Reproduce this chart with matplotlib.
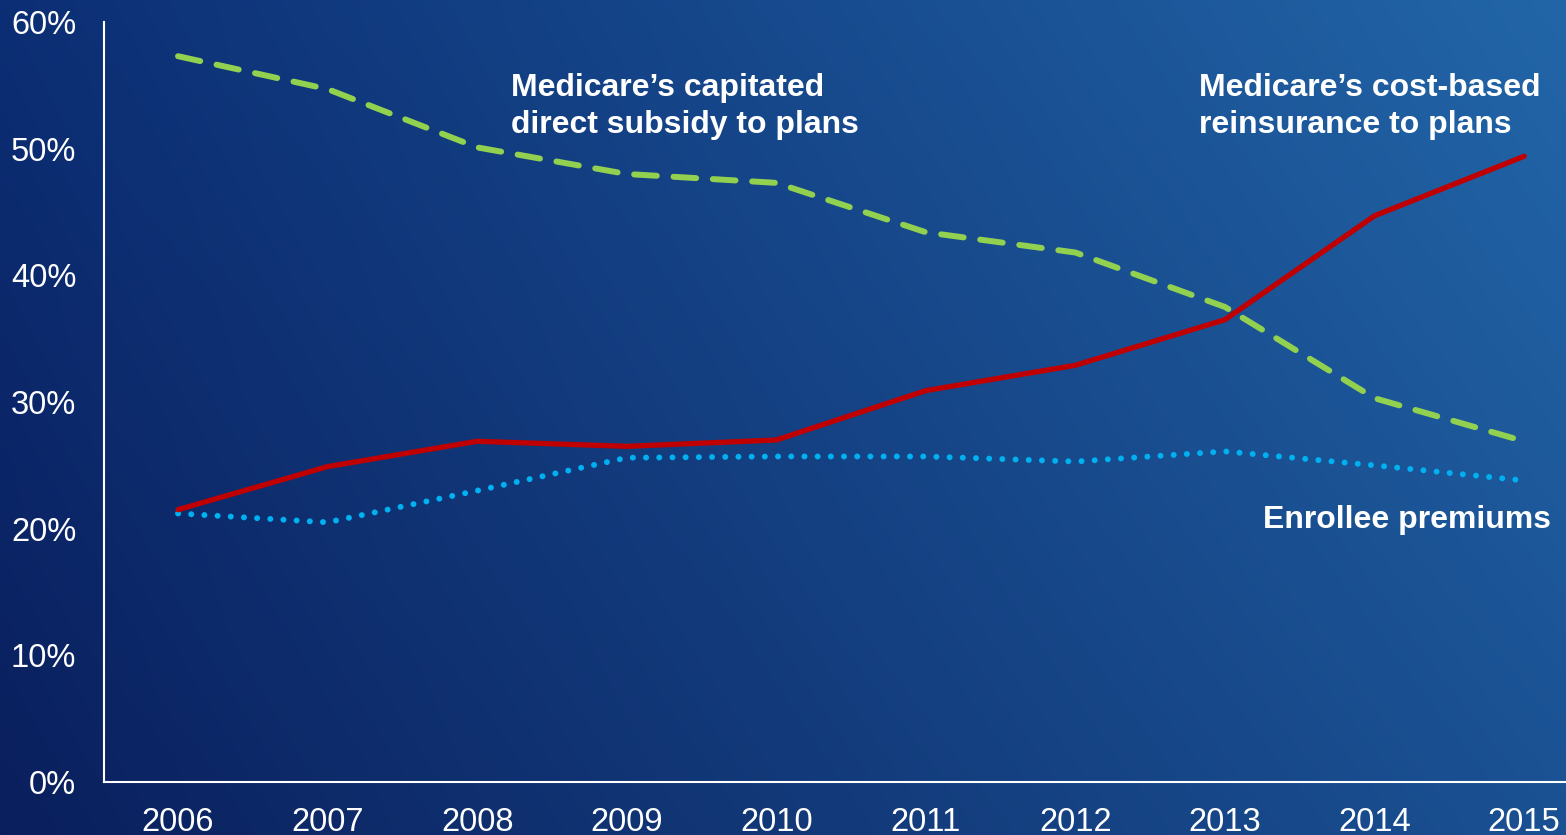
import numpy as np
import matplotlib
matplotlib.use("Agg")
import matplotlib.pyplot as plt
from matplotlib.colors import to_rgb

years = [2006, 2007, 2008, 2009, 2010, 2011, 2012, 2013, 2014, 2015]
reinsurance = [21.5, 24.9, 26.9, 26.5, 27.0, 30.9, 32.9, 36.5, 44.7, 49.4]
direct_subsidy = [57.3, 54.7, 50.1, 48.0, 47.3, 43.4, 41.8, 37.5, 30.3, 26.9]
premiums = [21.2, 20.5, 23.0, 25.6, 25.7, 25.7, 25.3, 26.1, 25.0, 23.8]
yticks = [0, 10, 20, 30, 40, 50, 60]

plt.rcParams['font.family'] = ['Liberation Sans', 'DejaVu Sans']

W, H = 1566, 835
fig = plt.figure(figsize=(W / 100, H / 100), dpi=100)

# gradient background (bilinear between the four corners)
bg = fig.add_axes([0, 0, 1, 1], zorder=0)
tl, tr = np.array(to_rgb('#0c2e74')), np.array(to_rgb('#2266a8'))
bl, br = np.array(to_rgb('#0a1f5d')), np.array(to_rgb('#1a5193'))
u = np.linspace(0, 1, 200)[None, :, None]
v = np.linspace(0, 1, 120)[:, None, None]
img = (1 - v) * ((1 - u) * tl + u * tr) + v * ((1 - u) * bl + u * br)
bg.imshow(img, aspect='auto', extent=[0, 1, 0, 1], interpolation='bilinear')
bg.axis('off')

ax = fig.add_axes([104 / W, 1 - 782 / H, 1 - 104 / W, (782 - 22) / H], zorder=1)
ax.patch.set_alpha(0)

ax.plot(years, direct_subsidy, color='#92d050', lw=4.3, dashes=(3.8, 2.8),
        solid_capstyle='round', dash_capstyle='round')
ax.plot(years, premiums, color='#00b0f0', lw=4.3, dashes=(0.01, 2.2),
        dash_capstyle='round')
ax.plot(years, reinsurance, color='#c00000', lw=3.8, solid_capstyle='round')

ax.set_xlim(2005.505, 2015.28)
ax.set_ylim(0, 60)
ax.set_xticks(years)
ax.set_yticks(yticks)
ax.set_yticklabels([f'{t}%' for t in yticks])
ax.tick_params(axis='both', length=0, colors='white', labelsize=23.5)
ax.tick_params(axis='y', pad=20)
ax.tick_params(axis='x', pad=18)
for s in ['top', 'right']:
    ax.spines[s].set_visible(False)
for s in ['left', 'bottom']:
    ax.spines[s].set_color('white')
    ax.spines[s].set_linewidth(1.5)

fig.text(511 / W, 1 - 73 / H, 'Medicare’s capitated\ndirect subsidy to plans',
         color='white', fontsize=23, fontweight='bold', ha='left', va='top',
         linespacing=1.32)
fig.text(1199 / W, 1 - 73 / H, 'Medicare’s cost-based\nreinsurance to plans',
         color='white', fontsize=23, fontweight='bold', ha='left', va='top',
         linespacing=1.32)
fig.text(1263 / W, 1 - 520 / H, 'Enrollee premiums',
         color='white', fontsize=23, fontweight='bold', ha='left', va='center')

fig.savefig('out.png', dpi=100)
